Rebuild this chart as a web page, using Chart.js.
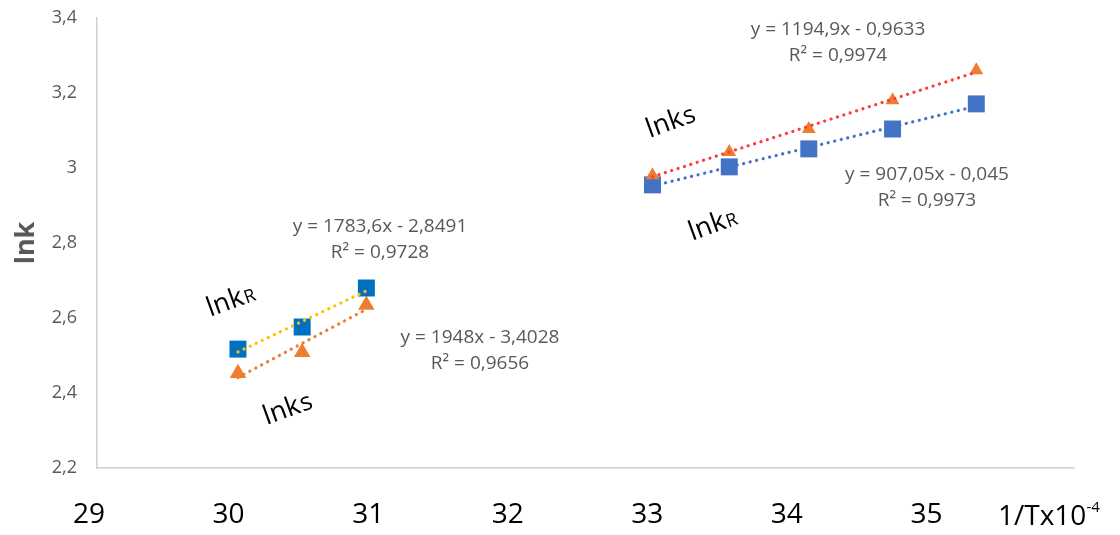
<!DOCTYPE html>
<html>
<head>
<meta charset="utf-8">
<script src="https://cdn.jsdelivr.net/npm/chart.js@4.4.0/dist/chart.umd.min.js"></script>
<style>
  html, body { margin: 0; background: #fff; }
  .chart__container { width: 1120px; height: 535px; }
</style>
</head>
<body>
<div class="chart__container"><canvas id="lnkChart"></canvas></div>
<script>
// x = 1/T x10^-4, y = lnk
const xHigh = [30.01, 30.47, 30.93];
const lnkRHigh = [2.517, 2.576, 2.680];
const lnkSHigh = [2.453, 2.509, 2.635];

const xLow = [32.98, 33.53, 34.10, 34.70, 35.30];
const lnkRLow = [2.955, 3.003, 3.051, 3.104, 3.171];
const lnkSLow = [2.981, 3.043, 3.104, 3.181, 3.261];

const xTickValues = [29, 30, 31, 32, 33, 34, 35];
const xTickLabels = ['29', '30', '31', '32', '33', '34', '35'];
const yTickValues = [2.2, 2.4, 2.6, 2.8, 3.0, 3.2, 3.4];
const yTickLabels = ['2,2', '2,4', '2,6', '2,8', '3', '3,2', '3,4'];

const eqRHigh = ['y = 1783,6x - 2,8491', 'R² = 0,9728'];
const eqSHigh = ['y = 1948x - 3,4028', 'R² = 0,9656'];
const eqSLow = ['y = 1194,9x - 0,9633', 'R² = 0,9974'];
const eqRLow = ['y = 907,05x - 0,045', 'R² = 0,9973'];

const FONT = "'Open Sans', 'Noto Sans', sans-serif";
const GREY = '#595959';

function points(xs, ys) {
  return xs.map((x, i) => ({ x: x, y: ys[i] }));
}

// least squares line over the range of the points
function trend(xs, ys) {
  const n = xs.length;
  const mx = xs.reduce((a, b) => a + b, 0) / n;
  const my = ys.reduce((a, b) => a + b, 0) / n;
  let sxy = 0, sxx = 0;
  for (let i = 0; i < n; i++) {
    sxy += (xs[i] - mx) * (ys[i] - my);
    sxx += (xs[i] - mx) * (xs[i] - mx);
  }
  const b = sxy / sxx;
  const a = my - b * mx;
  return [{ x: xs[0], y: a + b * xs[0] }, { x: xs[n - 1], y: a + b * xs[n - 1] }];
}

function dotted(data, color) {
  return {
    type: 'line', data: data, borderColor: color, borderWidth: 3.2,
    borderDash: [0.1, 6.6], borderCapStyle: 'round', pointRadius: 0,
    fill: false, order: 0
  };
}

function marker(data, style, color, radius, order) {
  return {
    type: 'scatter', data: data, pointStyle: style, pointRadius: radius,
    pointHoverRadius: radius, backgroundColor: color, borderColor: color,
    borderWidth: 0, order: order
  };
}

// equations and lnk labels placed on the canvas
const notes = [
  { lines: eqRHigh, x: 380, y: 227 },
  { lines: eqSHigh, x: 480, y: 338 },
  { lines: eqSLow, x: 838, y: 30 },
  { lines: eqRLow, x: 927, y: 175 }
];
const seriesNames = [
  { main: 'lnk', sub: 'R', x: 230, y: 300 },
  { main: 'lnk', sub: 's', x: 287, y: 408 },
  { main: 'lnk', sub: 's', x: 670, y: 121 },
  { main: 'lnk', sub: 'R', x: 712, y: 224 }
];

const annotations = {
  id: 'annotations',
  afterDatasetsDraw(chart) {
    const ctx = chart.ctx;
    ctx.save();
    ctx.fillStyle = GREY;
    ctx.font = '19px ' + FONT;
    ctx.textAlign = 'center';
    ctx.textBaseline = 'middle';
    notes.forEach(n => {
      n.lines.forEach((t, i) => ctx.fillText(t, n.x, n.y + i * 26));
    });

    ctx.fillStyle = '#000';
    ctx.textAlign = 'left';
    ctx.textBaseline = 'alphabetic';
    seriesNames.forEach(s => {
      ctx.save();
      ctx.translate(s.x, s.y);
      ctx.rotate(-20 * Math.PI / 180);
      ctx.font = '27px ' + FONT;
      const w1 = ctx.measureText(s.main).width;
      ctx.font = (s.sub === 'R' ? '18px ' : '25px ') + FONT;
      const w2 = ctx.measureText(s.sub).width;
      const start = -(w1 + w2) / 2;
      ctx.font = '27px ' + FONT;
      ctx.fillText(s.main, start, 9);
      ctx.font = (s.sub === 'R' ? '18px ' : '25px ') + FONT;
      ctx.fillText(s.sub, start + w1 + 1, 9);
      ctx.restore();
    });

    // x axis name at the right end
    ctx.font = '28px ' + FONT;
    ctx.textBaseline = 'middle';
    ctx.fillText('1/Tx10', 998, 517);
    const w = ctx.measureText('1/Tx10').width;
    ctx.font = '15px ' + FONT;
    ctx.fillText('-4', 998 + w, 508);
    ctx.restore();
  }
};

const ctx = document.getElementById('lnkChart').getContext('2d');
new Chart(ctx, {
  data: {
    datasets: [
      dotted(trend(xHigh, lnkRHigh), '#FFC000'),
      dotted(trend(xHigh, lnkSHigh), '#ED7D31'),
      dotted(trend(xLow, lnkSLow), '#FF3B3B'),
      dotted(trend(xLow, lnkRLow), '#4472C4'),
      marker(points(xHigh, lnkRHigh), 'rect', '#0070C0', 12, 1),
      marker(points(xHigh, lnkSHigh), 'triangle', '#ED7D31', 9.5, 2),
      marker(points(xLow, lnkSLow), 'triangle', '#ED7D31', 8, 1),
      marker(points(xLow, lnkRLow), 'rect', '#4472C4', 12, 2)
    ]
  },
  options: {
    responsive: true,
    maintainAspectRatio: false,
    animation: false,
    layout: { padding: { top: 18, right: 46, left: 0, bottom: 0 } },
    plugins: { legend: { display: false }, tooltip: { enabled: false } },
    scales: {
      x: {
        type: 'linear', min: 29, max: 36,
        afterBuildTicks: s => { s.ticks = xTickValues.map(v => ({ value: v })); },
        afterFit: s => { s.height = 67; s.paddingLeft = 0; s.paddingRight = 0; },
        ticks: {
          callback: (v, i) => xTickLabels[i],
          font: { size: 28, family: FONT }, color: '#000',
          padding: 30, labelOffset: -8, maxRotation: 0, autoSkip: false
        },
        grid: { display: false, drawTicks: false },
        border: { color: '#d0d0d0', width: 1.5 }
      },
      y: {
        min: 2.2, max: 3.4,
        afterBuildTicks: s => { s.ticks = yTickValues.map(v => ({ value: v })); },
        afterFit: s => { s.width = 97; s.paddingTop = 0; s.paddingBottom = 0; },
        ticks: {
          callback: (v, i) => yTickLabels[i],
          font: { size: 18, family: FONT }, color: GREY, padding: 20, autoSkip: false
        },
        grid: { display: false, drawTicks: false },
        border: { color: '#d0d0d0', width: 1.5 },
        title: {
          display: true, text: 'lnk', color: GREY,
          font: { size: 27, weight: 'bold', family: FONT }, padding: { top: 10, bottom: 0 }
        }
      }
    }
  },
  plugins: [annotations]
});
</script>
</body>
</html>
